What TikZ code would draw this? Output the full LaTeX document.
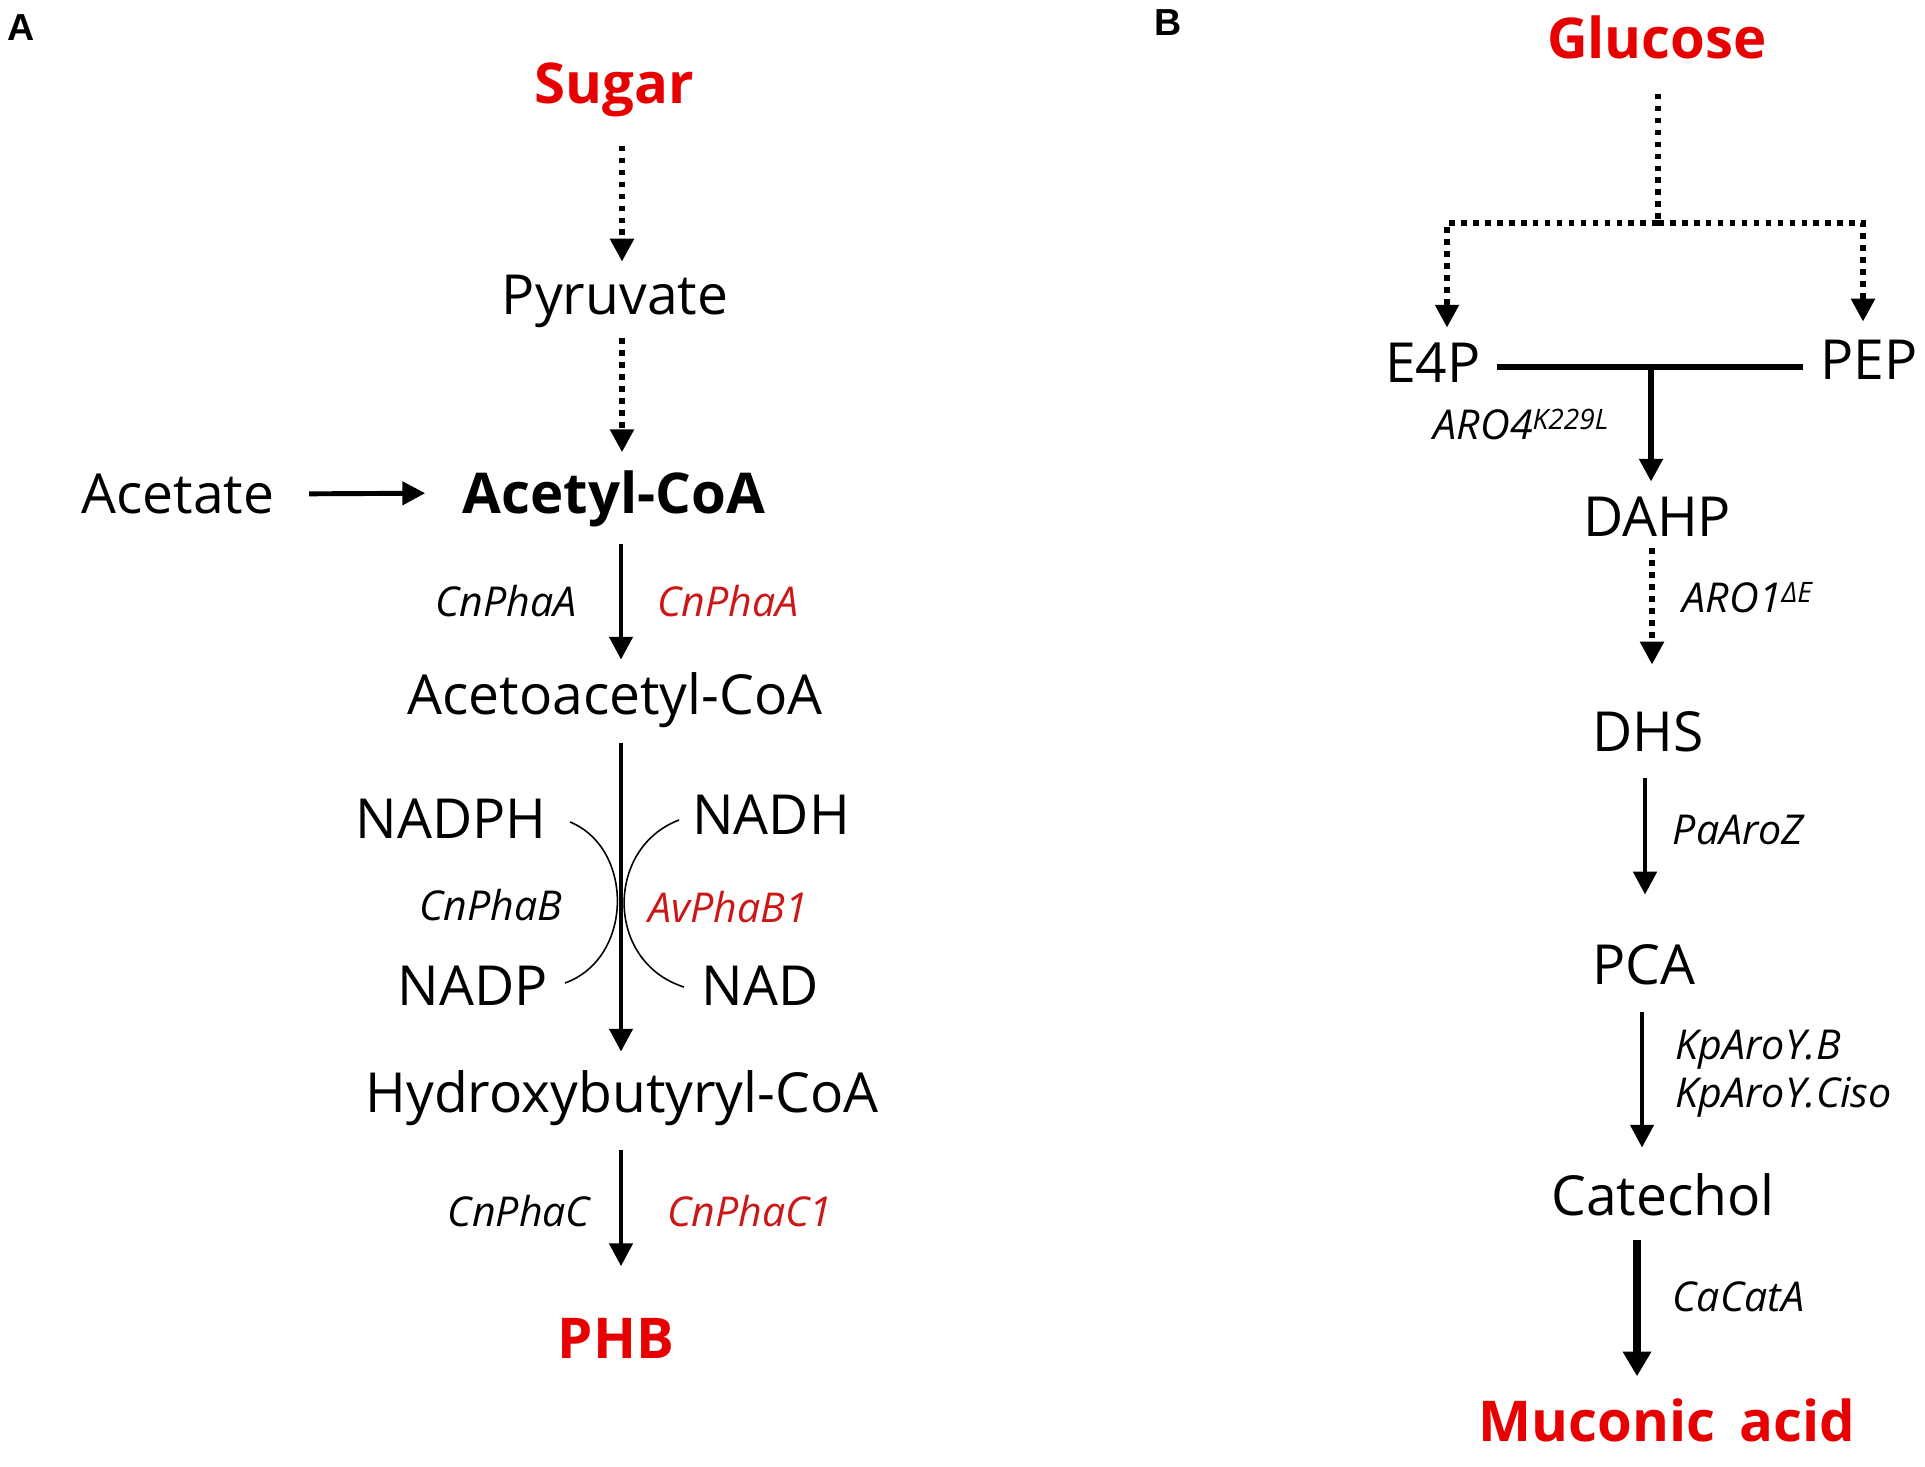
\documentclass[tikz,border=0pt]{standalone}
\usepackage{fontspec}
\setmainfont{Open Sans}
\newfontfamily\panelfont{Liberation Sans}
\usepackage{tikz}
\usetikzlibrary{arrows.meta}
\tikzset{>={Triangle[width=6.5pt,length=6.5pt]}}
\usepackage{xcolor}
\definecolor{prodcol}{RGB}{230,0,0}
\definecolor{enzredcol}{RGB}{205,22,22}
\tikzstyle{metab}=[inner sep=0,text height=11.2pt,text depth=0pt,font=\fontsize{15.7}{18}\selectfont]
\tikzstyle{keymetab}=[metab,text height=11.4pt,font=\fontsize{16}{19}\selectfont\bfseries]
\tikzstyle{product}=[keymetab,prodcol]
\tikzstyle{enzyme}=[inner sep=0,text height=8.4pt,text depth=0pt,font=\fontsize{11.7}{14}\selectfont\itshape]
\tikzstyle{enzred}=[enzyme,enzredcol]
\tikzstyle{panel}=[inner sep=0,font=\panelfont\bfseries\fontsize{10.7}{12}\selectfont]
\tikzstyle{reaction}=[->,line width=1.4pt]
\tikzstyle{dotreaction}=[->,line width=1.6pt,dash pattern=on 1.6pt off 1.8pt]
\tikzstyle{bigreaction}=[-{Triangle[width=7.7pt,length=7pt]},line width=2.3pt]
\tikzstyle{cofarc}=[line width=0.45pt]
\newcommand{\supr}[1]{\raisebox{2.8pt}{\fontsize{8}{9}\selectfont #1}}

\begin{document}
\begin{tikzpicture}[x=0.01cm,y=-0.01cm]
  \useasboundingbox (0,0) rectangle (1925,1466);
  \def\colA{621}

  % PANEL LABELS
  \node[panel] (labA) at (21,28) {A};
  \node[panel] (labB) at (1168,23) {B};

  % PANEL A: METABOLITES
  \node[product] (sugar) at (614,83) {Sugar};
  \node[metab] (pyruvate) at (615,295) {Pyruvate};
  \node[metab] (acetate) at (178,494) {Acetate};
  \node[keymetab] (acetylcoa) at (614,493) {Acetyl-CoA};
  \node[metab] (acetoacetyl) at (615,695) {Acetoacetyl-CoA};
  \node[metab] (hydroxy) at (622,1093) {Hydroxybutyryl-CoA};
  \node[product] (phb) at (616,1338) {PHB};
  \coordinate (colA) at (\colA,0);
  \coordinate (colAtop) at (622,0);

  % PANEL A: COFACTORS
  \node[metab] (nadph) at (451,819) {NADPH};
  \node[metab] (nadp) at (473,986) {NADP};
  \node[metab] (nadh) at (771,815) {NADH};
  \node[metab] (nad) at (760,986) {NAD};
  \coordinate (nadphend) at (570,822);
  \coordinate (nadpend) at (565,983);
  \coordinate (nadhend) at (679,820);
  \coordinate (nadend) at (684,987);

  % PANEL A: ENZYMES
  \node[enzyme] (phaAl) at (506,602) {CnPhaA};
  \node[enzred] (phaAr) at (728,602) {CnPhaA};
  \node[enzyme] (phaBl) at (491,906) {CnPhaB};
  \node[enzred] (phaBr) at (728,908) {AvPhaB1};
  \node[enzyme] (phaCl) at (519,1212) {CnPhaC};
  \node[enzred] (phaCr) at (750,1212) {CnPhaC1};

  % PANEL A: REACTIONS
  \draw[dotreaction,shorten <=0.42cm,shorten >=0.13cm]
    (sugar.south -| colAtop) -- (pyruvate.north -| colAtop);
  \draw[dotreaction,shorten <=0.23cm,shorten >=0.2cm]
    (pyruvate.south -| colAtop) -- (acetylcoa.north -| colAtop);
  \draw[reaction,shorten <=0.34cm,shorten >=0.37cm]
    (acetate.east) -- (acetylcoa.west);
  \draw[reaction,shorten <=0.3cm,shorten >=0.15cm]
    (acetylcoa.south -| colA) -- (acetoacetyl.north -| colA);
  \draw[reaction,shorten <=0.28cm,shorten >=0.21cm]
    (acetoacetyl.south -| colA) -- (hydroxy.north -| colA);
  \draw[reaction,shorten <=0.37cm,shorten >=0.51cm]
    (hydroxy.south -| colA) -- (phb.north -| colA);
  \draw[cofarc] (nadphend)
    .. controls (634,848) and (634,958) .. (nadpend);
  \draw[cofarc] (nadhend)
    .. controls (605,848) and (605,962) .. (nadend);

  % PANEL B: METABOLITES
  \node[product] (glucose) at (1657,38) {Glucose};
  \node[metab] (e4p) at (1433,363) {E4P};
  \node[metab] (pep) at (1869,360) {PEP};
  \node[metab] (dahp) at (1657,517) {DAHP};
  \node[metab] (dhs) at (1648,732) {DHS};
  \node[metab] (pca) at (1644,965) {PCA};
  \node[metab] (catechol) at (1663,1196) {Catechol};
  \node[product] (muconic) at (1667,1421) {Muconic\, acid};
  \coordinate (split) at (1658,223);
  \coordinate (junc) at (1651,367);
  \coordinate (colB1) at (1652,0);
  \coordinate (colB2) at (1645,0);
  \coordinate (colB3) at (1642,0);
  \coordinate (colB4) at (1637,0);

  % PANEL B: ENZYMES
  \node[enzyme,anchor=south west] (aro4) at (1433,440) {ARO4\supr{K229L}};
  \node[enzyme,anchor=south west] (aro1) at (1682,613) {ARO1\supr{ΔE}};
  \node[enzyme,anchor=west] (aroz) at (1672,830) {PaAroZ};
  \node[enzyme,anchor=west] (aroyb) at (1675,1045) {KpAroY.B};
  \node[enzyme,anchor=west] (aroyc) at (1675,1093) {KpAroY.Ciso};
  \node[enzyme,anchor=west] (cata) at (1672,1297) {CaCatA};

  % PANEL B: REACTIONS
  \draw[line width=1.6pt,dash pattern=on 1.6pt off 1.8pt,shorten <=0.35cm]
    (glucose.south -| split) -- (split);
  \draw[dotreaction,shorten >=0.15cm]
    (split) -| ([xshift=0.14cm]e4p.north);
  \draw[dotreaction,shorten >=0.18cm]
    (split) -| ([xshift=-0.06cm]pep.north);
  \draw[line width=1.6pt,shorten <=0.16cm,shorten >=0.17cm]
    (e4p.east |- junc) -- (pep.west |- junc);
  \draw[reaction,line width=1.6pt,shorten >=0.15cm]
    (junc) -- (dahp.north -| junc);
  \draw[dotreaction,shorten <=0.11cm,shorten >=0.47cm]
    (dahp.south -| colB1) -- (dhs.north -| colB1);
  \draw[reaction,shorten <=0.26cm,shorten >=0.5cm]
    (dhs.south -| colB2) -- (pca.north -| colB2);
  \draw[reaction,shorten <=0.27cm,shorten >=0.28cm]
    (pca.south -| colB3) -- (catechol.north -| colB3);
  \draw[bigreaction,shorten <=0.24cm,shorten >=0.24cm]
    (catechol.south -| colB4) -- (muconic.north -| colB4);

\end{tikzpicture}
\end{document}
